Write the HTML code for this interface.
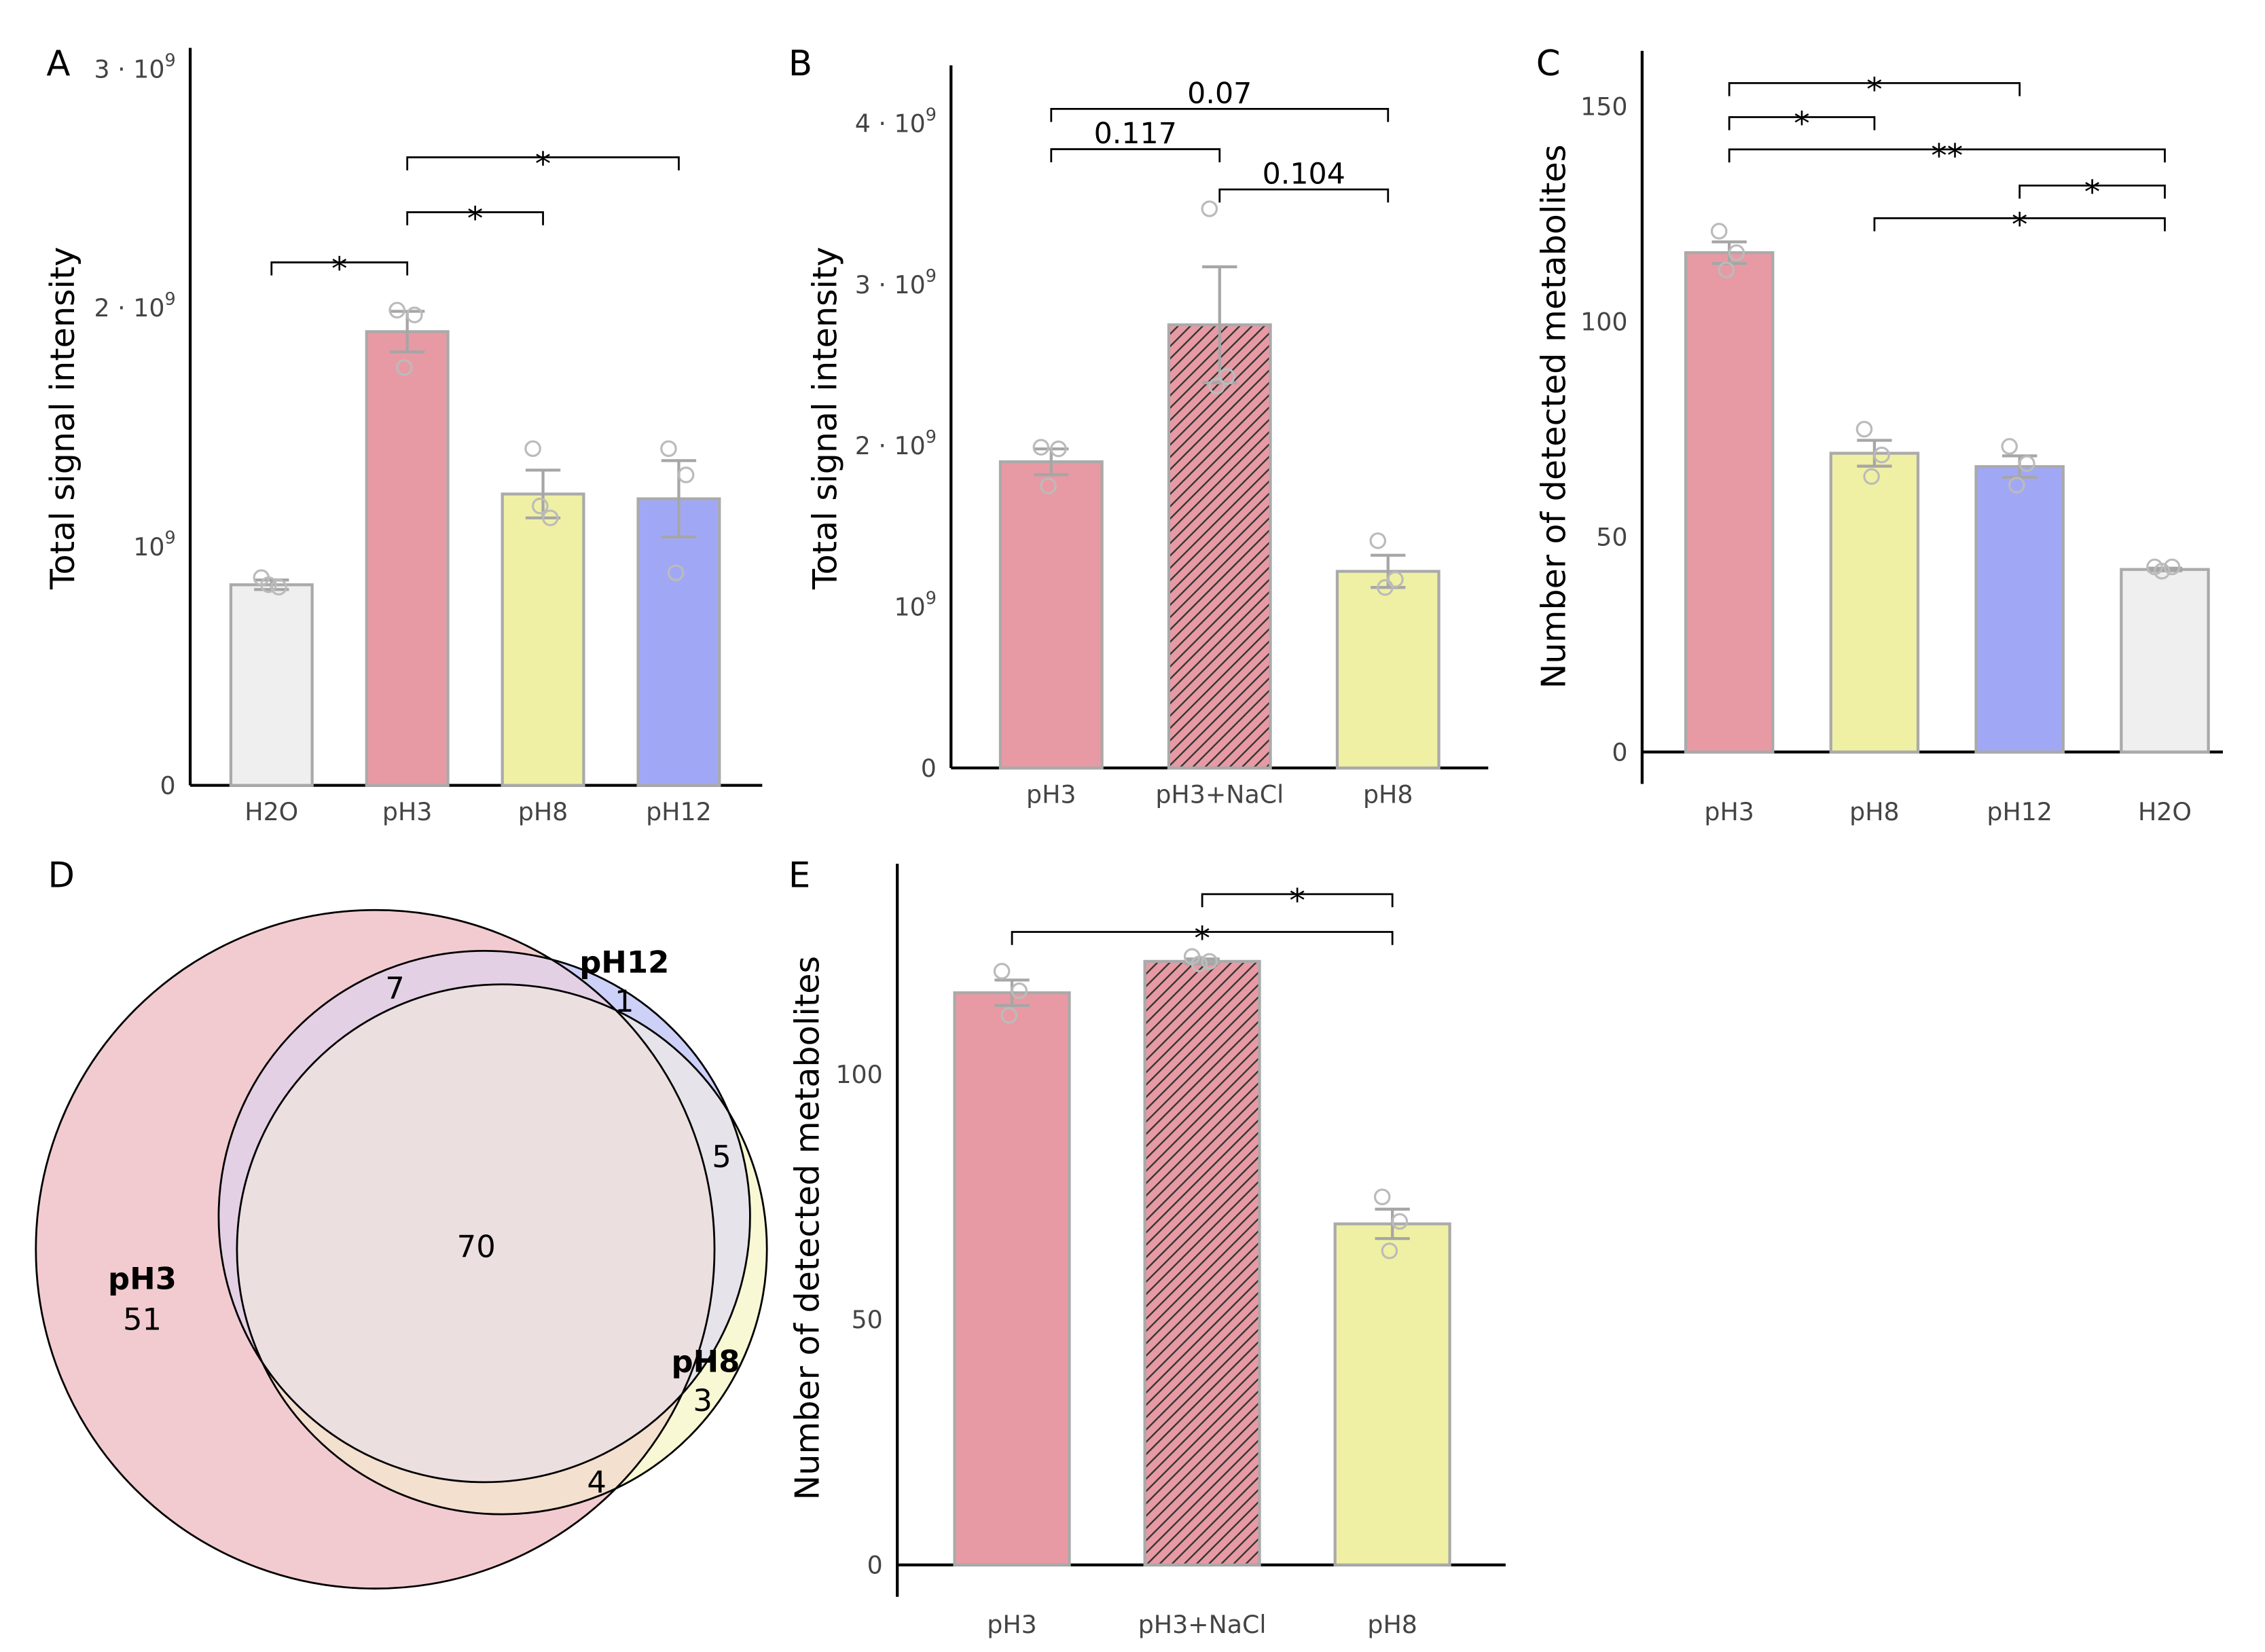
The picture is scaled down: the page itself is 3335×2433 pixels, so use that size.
<!DOCTYPE html>
<html><head><meta charset="utf-8"><style>
html,body{margin:0;padding:0;background:#fff;}
svg{display:block;}
text{font-family:"DejaVu Sans","Liberation Sans",sans-serif;}
</style></head><body>
<svg id="fig" xmlns="http://www.w3.org/2000/svg" width="3335" height="2433" viewBox="0 0 1560 1138" preserveAspectRatio="none">
<defs>
<pattern id="hatch" patternUnits="userSpaceOnUse" width="6" height="6" patternTransform="rotate(45)">
<rect width="6" height="6" fill="#e79aa3"/>
<line x1="0" y1="0" x2="0" y2="6" stroke="#333" stroke-width="2.2"/>
</pattern>
<clipPath id="clip0"><circle cx="258.4" cy="860.6" r="233.7"/></clipPath>
<clipPath id="clip1"><circle cx="333.6" cy="838" r="183"/></clipPath>
<clipPath id="clip2"><circle cx="345.7" cy="860.6" r="182.5"/></clipPath>
</defs>
<g id="root"></g>
</svg>
<script>
// ---------- Panel A ----------
const aCats = ["H2O","pH3","pH8","pH12"];
const aVals = [0.84,1.90,1.22,1.20];
const aErr = [0.02,0.085,0.10,0.16];
const aPts = [[0.87,0.83,0.84],[1.99,1.97,1.75],[1.41,1.12,1.17],[1.41,1.30,0.89]];
const aTicks = [0,1,2,3];
const aTickLabels = ["0","10|9","2 · 10|9","3 · 10|9"];
const aBrackets = [[0,1,2.19,"*"],[1,2,2.40,"*"],[1,3,2.63,"*"]];
// ---------- Panel B ----------
const bCats = ["pH3","pH3+NaCl","pH8"];
const bVals = [1.90,2.75,1.22];
const bErr = [0.08,0.36,0.10];
const bPts = [[1.99,1.98,1.75],[3.47,2.43,2.37],[1.41,1.17,1.12]];
const bTicks = [0,1,2,3,4];
const bTickLabels = ["0","10|9","2 · 10|9","3 · 10|9","4 · 10|9"];
const bBrackets = [[0,1,3.84,"0.117"],[0,2,4.09,"0.07"],[1,2,3.59,"0.104"]];
// ---------- Panel C ----------
const cCats = ["pH3","pH8","pH12","H2O"];
const cVals = [116,69.4,66.3,42.4];
const cErr = [2.5,3,2.5,0.3];
const cPts = [[121,116,112],[75,69,64],[71,67,62],[43,43,42]];
const cTicks = [0,50,100,150];
const cTickLabels = ["0","50","100","150"];
const cBrackets = [[0,2,155.4,"*"],[0,1,147.5,"*"],[0,3,140,"**"],[2,3,131.6,"*"],[1,3,124,"*"]];
// ---------- Panel E ----------
const eCats = ["pH3","pH3+NaCl","pH8"];
const eVals = [116.6,123,69.5];
const eErr = [2.6,0.5,3];
const ePts = [[121,117,112],[124,123,122.5],[75,70,64]];
const eTicks = [0,50,100];
const eTickLabels = ["0","50","100"];
const eBrackets = [[0,2,129,"*"],[1,2,136.7,"*"]];
// ---------- Panel D (Venn) ----------
const vennSets = ["pH3","pH12","pH8"];
const vennCounts = [51,1,7,3,4,5,70]; // pH3only, pH12only, pH3&pH12, pH8only, pH3&pH8, pH12&pH8, all

const NS="http://www.w3.org/2000/svg";
const root=document.getElementById('root');
function mk(tag,attrs,parent){const e=document.createElementNS(NS,tag);for(const k in attrs)e.setAttribute(k,attrs[k]);(parent||root).appendChild(e);return e;}
function label(parent,x,y,str,size,fill,anchor,weight){
  const t=mk('text',{x:x,y:y,'font-size':size,fill:fill,'text-anchor':anchor||'middle','font-weight':weight||'normal'},parent);
  const parts=str.split('|');
  t.appendChild(document.createTextNode(parts[0]));
  if(parts[1]){const s=mk('tspan',{dy:-8,'font-size':size*0.7},t);s.textContent=parts[1];}
  return t;
}

function barPanel(cfg,cats,vals,errs,pts,ticks,tickLabels,brackets,colors){
  const g=mk('g',{});
  
  
  const y=v=>cfg.y0-(v-0)*cfg.k;
  const x=i=>cfg.xc0+i*cfg.dx;
  const ya=mk('line',{x1:cfg.ax,y1:cfg.ytop,x2:cfg.ax,y2:cfg.ybot,stroke:'#000','stroke-width':2},g);
  
  
  const xa=mk('line',{x1:cfg.ax,y1:cfg.y0,x2:cfg.xend,y2:cfg.y0,stroke:'#000','stroke-width':2},g);
  
  
  ticks.forEach((t,i)=>{
    const tl=label(g,cfg.ax-10,y(t)+6,tickLabels[i],17,'#444','end');
    
    
  });
  const yt=mk('text',{x:0,y:0,'font-size':23,fill:'#000','text-anchor':'middle',transform:`translate(${cfg.titleX},${cfg.titleY}) rotate(-90)`},g);
  yt.textContent=cfg.title;
  
  
  const pl=mk('text',{x:cfg.lx,y:cfg.ly,'font-size':24,fill:'#000'},g);
  pl.textContent=cfg.letter;
  
  
  cats.forEach((c,i)=>{
    const cx=x(i);
    const r=mk('rect',{x:cx-cfg.bw/2,y:y(vals[i]),width:cfg.bw,height:cfg.y0-y(vals[i]),fill:colors[i],stroke:'#aaa','stroke-width':2},g);
    
    
    const hi=y(vals[i]+errs[i]),lo=y(vals[i]-errs[i]);
    const eb=mk('path',{d:`M${cx},${hi}V${lo}M${cx-12},${hi}H${cx+12}M${cx-12},${lo}H${cx+12}`,stroke:'#a6a6a6','stroke-width':2,fill:'none'},g);
    
    
    const offs=[-7,5,-2];
    pts[i].forEach((p,j)=>{
      const pt=mk('circle',{cx:cx+offs[j],cy:y(p),r:5,fill:'none',stroke:'#bbb','stroke-width':1.5},g);
      
      
    });
    const xl=mk('text',{x:cx,y:cfg.xly,'font-size':17,fill:'#444','text-anchor':'middle'},g);
    xl.textContent=c;
    
    
  });
  brackets.forEach(b=>{
    const x1=x(b[0]),x2=x(b[1]),by=y(b[2]);
    const p=mk('path',{d:`M${x1},${by+9}V${by}H${x2}V${by+9}`,stroke:'#000','stroke-width':1.3,fill:'none'},g);
    
    
    const isStar=b[3].indexOf('*')>=0;
    const t=mk('text',{x:(x1+x2)/2,y:isStar?by+12:by-4,'font-size':isStar?22:20,fill:'#000','text-anchor':'middle'},g);
    t.textContent=b[3];
    
    
  });
}

barPanel({name:'panel-a-chart',y0:541,k:164.5,xc0:187,dx:93.5,bw:56,ax:131,ytop:33,ybot:541,xend:525,title:'Total signal intensity',titleX:51,titleY:288,letter:'A',lx:32,ly:52,xly:565},
  aCats,aVals,aErr,aPts,aTicks,aTickLabels,aBrackets,['#efefef','#e79aa3','#f0f0a4','#a0a8f5']);
barPanel({name:'panel-b-chart',y0:529,k:111,xc0:724,dx:116,bw:70,ax:655,ytop:45,ybot:529,xend:1025,title:'Total signal intensity',titleX:576,titleY:288,letter:'B',lx:543,ly:52,xly:553},
  bCats,bVals,bErr,bPts,bTicks,bTickLabels,bBrackets,['#e79aa3','url(#hatch)','#f0f0a4']);
barPanel({name:'panel-c-chart',y0:518,k:2.965,xc0:1191,dx:100,bw:60,ax:1131,ytop:35,ybot:540,xend:1531,title:'Number of detected metabolites',titleX:1078,titleY:287,letter:'C',lx:1058,ly:52,xly:565},
  cCats,cVals,cErr,cPts,cTicks,cTickLabels,cBrackets,['#e79aa3','#f0f0a4','#a0a8f5','#efefef']);
barPanel({name:'panel-e-chart',y0:1078,k:3.38,xc0:697,dx:131,bw:79,ax:618,ytop:595,ybot:1100,xend:1037,title:'Number of detected metabolites',titleX:564,titleY:846,letter:'E',lx:543,ly:611,xly:1125},
  eCats,eVals,eErr,ePts,eTicks,eTickLabels,eBrackets,['#e79aa3','url(#hatch)','#f0f0a4']);

// Venn
const vg=mk('g',{});


const dl=mk('text',{x:33,y:611,'font-size':24,fill:'#000'},vg);
dl.textContent='D';


const circles=[[258.4,860.6,233.7,'#f2cbd0'],[333.6,838,183,'#cdd0f7'],[345.7,860.6,182.5,'#f8f8d4']];
circles.forEach((c,i)=>{
  const ci=mk('circle',{cx:c[0],cy:c[1],r:c[2],fill:c[3]},vg);
  
  
});
function region(clipA,circ,fill,clipB){
  const g1=mk('g',{'clip-path':`url(#${clipA})`},vg);
  let tgt=g1;
  if(clipB){tgt=mk('g',{'clip-path':`url(#${clipB})`},g1);}
  const c=circles[circ];
  const r=mk('circle',{cx:c[0],cy:c[1],r:c[2],fill:fill},tgt);
  
  
}
region('clip0',1,'#e4d0e4');
region('clip0',2,'#f3e0cf');
region('clip1',2,'#e6e4ea');
region('clip0',2,'#ecdfe0','clip1');
circles.forEach(c=>{
  const o=mk('circle',{cx:c[0],cy:c[1],r:c[2],fill:'none',stroke:'#000','stroke-width':1.3},vg);
  
  
});
const setLabelPos=[[98,888],[430,670],[486,945]];
vennSets.forEach((s,i)=>{
  const t=mk('text',{x:setLabelPos[i][0],y:setLabelPos[i][1],'font-size':21,'font-weight':'bold',fill:'#000','text-anchor':'middle'},vg);
  t.textContent=s;
  
  
});
const countPos=[[98,916],[430,697],[272,688],[484,972],[411,1028],[497,804],[328,866]];
vennCounts.forEach((v,i)=>{
  const t=mk('text',{x:countPos[i][0],y:countPos[i][1],'font-size':21,fill:'#000','text-anchor':'middle'},vg);
  t.textContent=v;
  
  
});
</script>
</body></html>
